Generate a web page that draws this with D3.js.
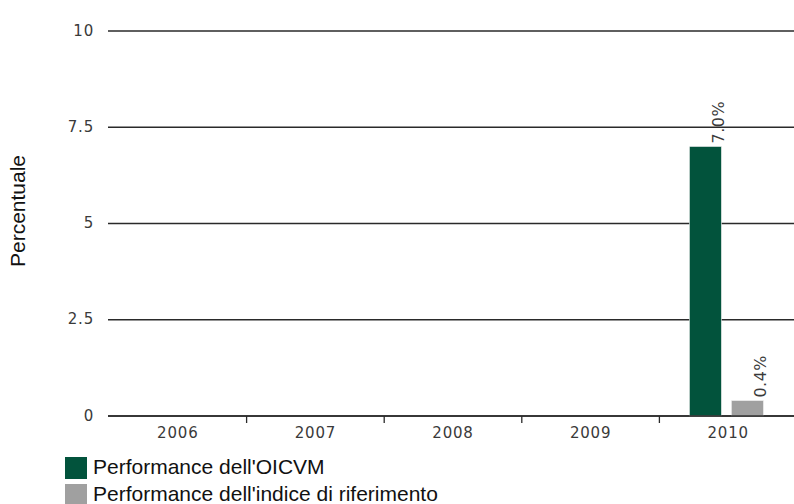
<!DOCTYPE html>
<html><head><meta charset="utf-8">
<script src="https://cdn.jsdelivr.net/npm/d3@7/dist/d3.min.js"></script>
<style>body{margin:0;background:#fff;} svg{display:block;}</style>
</head><body>
<svg id="c" width="794" height="504"></svg>
<script>
const categories = ["2006","2007","2008","2009","2010"];
const seriesNames = ["Performance dell'OICVM","Performance dell'indice di riferimento"];
const fundValues = [null,null,null,null,7.0];
const indexValues = [null,null,null,null,0.4];
const yTicks = [0,2.5,5,7.5,10];
const yTickLabels = ["0","2.5","5","7.5","10"];
const colors = ["#02533C","#A0A0A0"];

const svg = d3.select("#c");
const x = d3.scaleBand().domain(categories).range([109,797]);
const y = d3.scaleLinear().domain([0,10]).range([416,31]);
const inner = d3.scaleBand().domain([0,1]).range([30,104]).paddingInner(0.238);

const tickFont = "DejaVu Sans, Verdana, sans-serif";
const textFont = "Liberation Sans, Arial, sans-serif";

// gridlines
svg.append("g").selectAll("line").data(yTicks).join("line")
  .attr("x1",108).attr("x2",794).attr("y1",d=>y(d)).attr("y2",d=>y(d))
  .attr("stroke","#2a2a2a").attr("stroke-width",1.3);

// y labels
svg.append("g").selectAll("text").data(yTicks).join("text")
  .attr("x",94).attr("y",d=>y(d)).attr("dy","0.3em").attr("text-anchor","end")
  .attr("font-family",tickFont).attr("font-size",15).attr("letter-spacing",0.8).attr("fill","#3a3a3a")
  .text((d,i)=>yTickLabels[i]);

// x axis labels
const xAxis = d3.axisBottom(x).tickSize(0).tickPadding(11);
const gx = svg.append("g").attr("transform","translate(0,416)").call(xAxis);
gx.select(".domain").remove();
gx.selectAll("text").attr("font-family",tickFont).attr("font-size",15).attr("letter-spacing",0.8).attr("fill","#3a3a3a");
// category separator ticks
svg.append("g").selectAll("line").data(categories.slice(1)).join("line")
  .attr("x1",d=>x(d)).attr("x2",d=>x(d)).attr("y1",416).attr("y2",423)
  .attr("stroke","#2a2a2a").attr("stroke-width",1.3);

// bars
const series = [fundValues,indexValues];
series.forEach((vals,si)=>{
  const data = categories.map((c,i)=>({c,v:vals[i]})).filter(d=>d.v!=null);
  svg.append("g").selectAll("rect").data(data).join("rect")
    .attr("x",d=>x(d.c)+inner(si)).attr("width",inner.bandwidth())
    .attr("y",d=>y(d.v)).attr("height",d=>y(0)-y(d.v))
    .attr("fill",colors[si]).attr("stroke","#eeeeee").attr("stroke-width",0.6);
  svg.append("g").selectAll("text").data(data).join("text")
    .attr("transform",d=>`translate(${x(d.c)+inner(si)+inner.bandwidth()+3},${y(d.v)-3}) rotate(-90)`)
    .attr("font-family",tickFont).attr("font-size",16).attr("letter-spacing",0.5).attr("fill","#3a3a3a")
    .text(d=>d.v.toFixed(1)+"%");
});

// zero line on top
svg.append("line").attr("x1",108).attr("x2",794).attr("y1",y(0)).attr("y2",y(0))
  .attr("stroke","#2a2a2a").attr("stroke-width",1.3);

// y title
svg.append("text").attr("transform","translate(25,211) rotate(-90)").attr("text-anchor","middle")
  .attr("font-family",textFont).attr("font-size",21).attr("fill","#111").text("Percentuale");

// legend
const lg = svg.append("g").selectAll("g").data(seriesNames).join("g")
  .attr("transform",(d,i)=>`translate(65,${457+i*27})`);
lg.append("rect").attr("width",22).attr("height",22).attr("fill",(d,i)=>colors[i]);
lg.append("text").attr("x",28).attr("y",17).attr("font-family",textFont)
  .attr("font-size",21).attr("fill","#111").text(d=>d);
</script>
</body></html>
